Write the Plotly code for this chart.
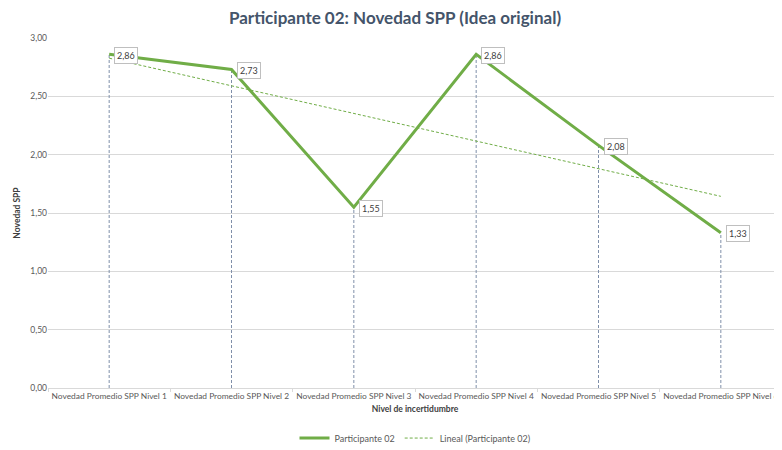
import numpy as np
import plotly.graph_objects as go

categories = ["Novedad Promedio SPP Nivel 1", "Novedad Promedio SPP Nivel 2",
              "Novedad Promedio SPP Nivel 3", "Novedad Promedio SPP Nivel 4",
              "Novedad Promedio SPP Nivel 5", "Novedad Promedio SPP Nivel 6"]
values = [2.86, 2.73, 1.55, 2.86, 2.08, 1.33]
y_ticks = [0, 0.5, 1.0, 1.5, 2.0, 2.5, 3.0]
y_tick_labels = ["0,00", "0,50", "1,00", "1,50", "2,00", "2,50", "3,00"]

FONT = "Lato"
GREEN = "#70ad47"
idx = np.arange(1, len(values) + 1)
slope, intercept = np.polyfit(idx, values, 1)
trend = list(slope * idx + intercept)

# drop lines built from data
drop_x, drop_y = [], []
for c, v in zip(categories, values):
    drop_x += [c, c, None]
    drop_y += [0, v, None]

fig = go.Figure()
fig.add_trace(go.Scatter(x=drop_x, y=drop_y, mode="lines", showlegend=False,
                         line=dict(color="#7f8fa9", width=1, dash="3px,2px"),
                         hoverinfo="skip"))
fig.add_trace(go.Scatter(x=categories, y=values, mode="lines", name="Participante 02",
                         line=dict(color=GREEN, width=3)))
fig.add_trace(go.Scatter(x=categories, y=trend, mode="lines", name="Lineal (Participante 02)",
                         line=dict(color=GREEN, width=1, dash="3px,2px")))

for c, v in zip(categories, values):
    fig.add_annotation(x=c, y=v, xref="x", yref="y",
                       text=f"{v:.2f}".replace(".", ","), showarrow=False,
                       xanchor="left", yanchor="middle", xshift=5, yshift=-1,
                       bgcolor="white", bordercolor="#bfbfbf", borderwidth=1, borderpad=2,
                       font=dict(family=FONT, size=9, color="#404040"))

fig.update_layout(
    width=774, height=442,
    margin=dict(l=40, r=0, t=30, b=62, autoexpand=False),
    paper_bgcolor="white", plot_bgcolor="white",
    font=dict(family=FONT, size=8.4, color="#595959"),
    title=dict(text="<b>Participante 02: Novedad SPP (Idea original)</b>",
               x=0.5, xanchor="center", y=0.99, yanchor="top",
               font=dict(family=FONT, size=17, color="#44546a")),
    showlegend=True,
    legend=dict(orientation="h", x=0.5, xanchor="center", y=-0.143, yanchor="middle",
                font=dict(family=FONT, size=9, color="#595959")),
    xaxis=dict(type="category", categoryorder="array", categoryarray=categories,
               range=[-0.5, 5.5],
               tickson="boundaries", ticks="outside", ticklen=3, tickcolor="#d9d9d9",
               tickangle=0, automargin=False,
               showline=True, linecolor="#d9d9d9", showgrid=False,
               tickfont=dict(family=FONT, size=8.4, color="#595959"),
               title=dict(text="<b>Nivel de incertidumbre</b>", standoff=5,
                          font=dict(family=FONT, size=8.5, color="#404040"))),
    yaxis=dict(range=[0, 3.0], tickvals=y_ticks, ticktext=y_tick_labels,
               showgrid=True, gridcolor="#d9d9d9", zeroline=False, automargin=False,
               tickfont=dict(family=FONT, size=8.5, color="#595959"),
               title=dict(text="<b>Novedad SPP</b>", standoff=8,
                          font=dict(family=FONT, size=8.5, color="#404040"))),
)

fig.write_html("out.html")
